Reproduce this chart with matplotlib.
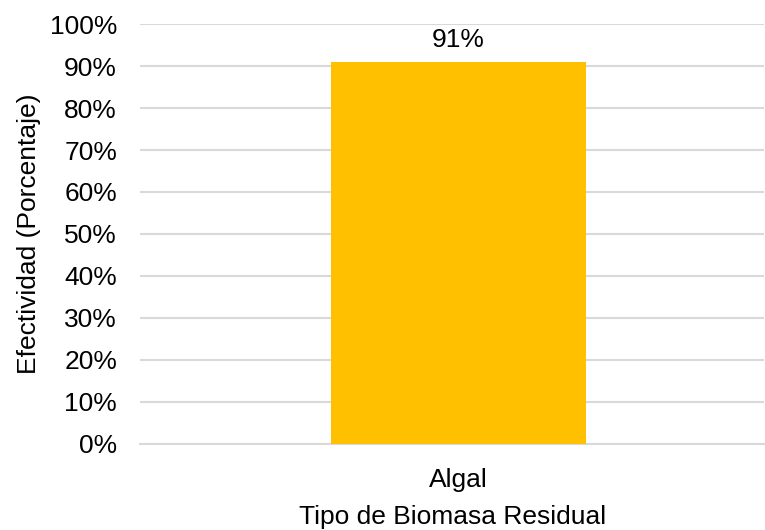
import matplotlib
matplotlib.use("Agg")
import matplotlib.pyplot as plt
from matplotlib.ticker import PercentFormatter

categories = ["Algal"]
values = [91]
yticks = list(range(0, 101, 10))

plt.rcParams['font.family'] = ['Liberation Sans', 'DejaVu Sans']
FS = 19
TC = "#000000"

fig = plt.figure(figsize=(7.65, 5.3), dpi=100)
ax = fig.add_axes([0.183, 0.1623, 0.816, 0.7924])

x = list(range(len(categories)))
ax.bar(x, values, width=0.408, color="#FFC000", zorder=3)
for xi, v in zip(x, values):
    ax.text(xi, v + 2.3, f"{v}%", ha="center", va="bottom", fontsize=FS, color=TC)

ax.set_xlim(-0.51, len(categories) - 0.51)
ax.set_ylim(0, 100)
ax.set_yticks(yticks)
ax.yaxis.set_major_formatter(PercentFormatter(decimals=0))
ax.set_xticks(x)
ax.set_xticklabels(categories)
ax.tick_params(axis='both', length=0, labelsize=FS, colors=TC)
ax.tick_params(axis='x', pad=17)
ax.tick_params(axis='y', pad=16.5)
ax.grid(axis='y', color="#D9D9D9", linewidth=1.5, zorder=0)
for s in ["top", "right", "left"]:
    ax.spines[s].set_visible(False)
ax.spines["bottom"].set_color("#D9D9D9")
ax.spines["bottom"].set_linewidth(1.5)

ax.set_xlabel("Tipo de Biomasa Residual", fontsize=FS, color=TC, labelpad=9.5)
ax.set_ylabel("Efectividad (Porcentaje)", fontsize=FS, color=TC, labelpad=6.5)

fig.savefig("out.png", dpi=100)
